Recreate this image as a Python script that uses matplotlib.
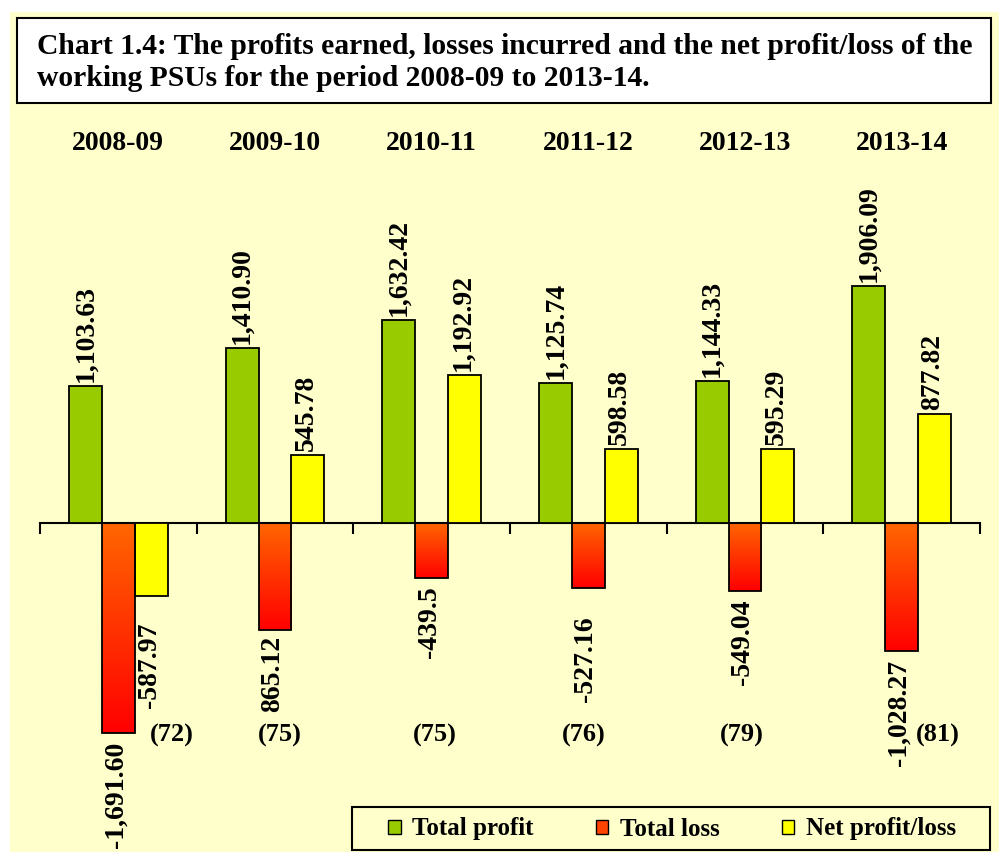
import numpy as np
import matplotlib
matplotlib.use("Agg")
import matplotlib.pyplot as plt
from matplotlib.colors import LinearSegmentedColormap
from matplotlib.patches import Rectangle, Patch

# Datos del grafico (Rs. crore)
years = ["2008-09", "2009-10", "2010-11", "2011-12", "2012-13", "2013-14"]
total_profit = [1103.63, 1410.90, 1632.42, 1125.74, 1144.33, 1906.09]
total_loss = [-1691.60, -865.12, -439.50, -527.16, -549.04, -1028.27]
net_profit = [-587.97, 545.78, 1192.92, 598.58, 595.29, 877.82]
profit_labels = ["1,103.63", "1,410.90", "1,632.42", "1,125.74", "1,144.33", "1,906.09"]
loss_labels = ["-1,691.60", "865.12", "-439.5", "-527.16", "-549.04", "-1,028.27"]
net_labels = ["-587.97", "545.78", "1,192.92", "598.58", "595.29", "877.82"]
psu_counts = ["(72)", "(75)", "(75)", "(76)", "(79)", "(81)"]

plt.rcParams['font.family'] = ['Liberation Serif', 'DejaVu Serif']
plt.rcParams['font.weight'] = 'bold'

W, H = 999, 852
fig = plt.figure(figsize=(W / 100, H / 100), dpi=100)
fig.patch.set_facecolor('white')

# fondo amarillo, caja del titulo y marco de la leyenda
fig.patches.append(Rectangle((10 / W, 0), 1, (H - 12) / H, transform=fig.transFigure,
                             facecolor='#FFFFCC', edgecolor='none', zorder=-10))
fig.patches.append(Rectangle((17 / W, (H - 103) / H), (991 - 17) / W, 85 / H,
                             transform=fig.transFigure, facecolor='white',
                             edgecolor='black', linewidth=1.5, zorder=-5))
fig.patches.append(Rectangle((352 / W, (H - 850) / H), (990 - 352) / W, 43 / H,
                             transform=fig.transFigure, facecolor='none',
                             edgecolor='black', linewidth=1.5, zorder=-5))
fig.text(37 / W, (H - 47) / H, "Chart 1.4: The profits earned, losses incurred and the net profit/loss of the",
         fontsize=21.3, fontweight='bold', va='center', ha='left')
fig.text(37 / W, (H - 79) / H, "working PSUs for the period 2008-09 to 2013-14.",
         fontsize=21.3, fontweight='bold', va='center', ha='left')

ax_top, ax_bot = 120, 800
ax = fig.add_axes([40 / W, (H - ax_bot) / H, 940 / W, (ax_bot - ax_top) / H])
ax.set_facecolor('none')

scale = 0.1241  # px por unidad
x = np.arange(len(years))
bw = 0.21

ax.bar(x - bw, total_profit, width=bw, color='#99CC00', edgecolor='black', linewidth=1.3, zorder=3)
ax.bar(x + bw, net_profit, width=bw, color='#FFFF00', edgecolor='black', linewidth=1.3, zorder=3)
loss_bars = ax.bar(x, total_loss, width=bw, color='none', edgecolor='black', linewidth=1.3, zorder=3)

# degradado naranja -> rojo en las barras de perdida
cmap = LinearSegmentedColormap.from_list('loss', ['#FF6600', '#FF0000'])
grad = np.linspace(0, 1, 256).reshape(-1, 1)
for b in loss_bars:
    x0 = b.get_x()
    ax.imshow(grad, cmap=cmap, aspect='auto', origin='upper', zorder=2,
              extent=[x0, x0 + b.get_width(), b.get_y() + b.get_height(), b.get_y()])
ax.set_xlim(-0.5, len(years) - 0.5)
ax.set_ylim(-(ax_bot - 523) / scale, (523 - ax_top) / scale)

# etiquetas de valores (rotadas)
def etiquetar(xs, vals, labels, gaps):
    for xi, v, lab, g in zip(xs, vals, labels, gaps):
        if v >= 0:
            ax.annotate(lab, (xi, v), xytext=(0, 3), textcoords='offset points',
                        rotation=90, ha='center', va='bottom', fontsize=20, fontweight='bold')
        else:
            ax.annotate(lab, (xi, v), xytext=(0, -g), textcoords='offset points',
                        rotation=90, ha='center', va='top', fontsize=20, fontweight='bold')

etiquetar(x - bw, total_profit, profit_labels, [6] * 6)
etiquetar(x - 0.015, total_loss, loss_labels, [6, 4, 6.5, 20, 6, 6.5])
etiquetar(x + bw - 0.01, net_profit, net_labels, [19, 6, 6, 6, 6, 6])

# anos arriba
for xi, yr in zip(x, years):
    ax.text(xi, (ax_bot - 143) / (ax_bot - ax_top), yr, transform=ax.get_xaxis_transform(),
            ha='center', va='center', fontsize=20, fontweight='bold')

# numero de PSUs
count_shift = [0.34, 0.03, 0.02, -0.03, -0.02, 0.23]
for xi, c, s in zip(x, psu_counts, count_shift):
    ax.text(xi + s, (ax_bot - 735) / (ax_bot - ax_top), c, transform=ax.get_xaxis_transform(),
            ha='center', va='center', fontsize=19, fontweight='bold')

for side in ['top', 'right', 'left']:
    ax.spines[side].set_visible(False)
ax.spines['bottom'].set_position(('data', 0))
ax.spines['bottom'].set_linewidth(1.5)
ax.set_xticks(np.arange(len(years) + 1) - 0.5)
ax.set_xticklabels([])
ax.tick_params(axis='x', direction='out', length=8, width=1.5)
ax.set_yticks([])

handles = [Patch(facecolor='#99CC00', edgecolor='black'),
           Patch(facecolor='#FF4400', edgecolor='black'),
           Patch(facecolor='#FFFF00', edgecolor='black')]
leg = fig.legend(handles, ["Total profit", "Total loss", "Net profit/loss"], ncol=3,
                 loc='center', bbox_to_anchor=(672 / W, (H - 829) / H),
                 fontsize=18, frameon=False, columnspacing=2.5,
                 handlelength=0.5, handleheight=0.5, handletextpad=0.45, borderaxespad=0)

fig.savefig('out.png', dpi=100)
